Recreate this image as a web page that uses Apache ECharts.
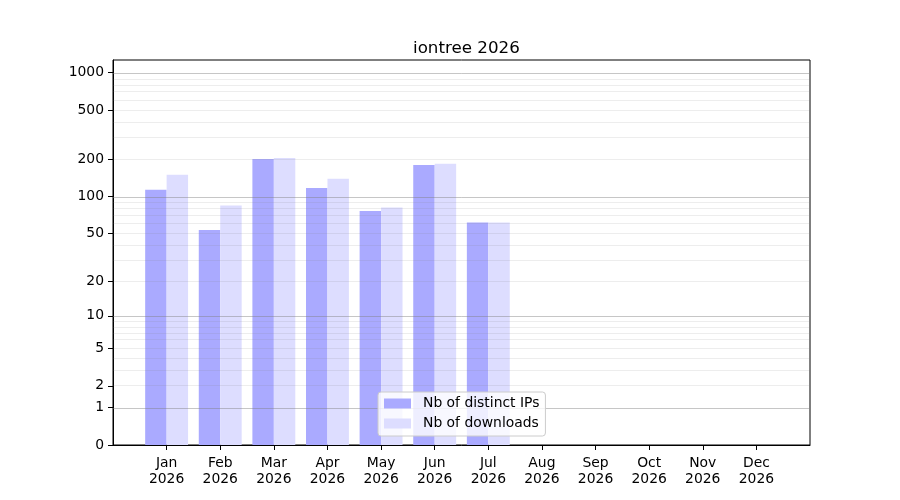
<!DOCTYPE html>
<html>
<head>
<meta charset="utf-8">
<script src="https://cdn.jsdelivr.net/npm/echarts@6/dist/echarts.min.js"></script>
<style>html,body{margin:0;padding:0;background:#fff}#c{width:900px;height:500px}</style>
</head>
<body>
<div id="c"></div>
<script>
var titleText = 'iontree 2026';
var months = ['Jan', 'Feb', 'Mar', 'Apr', 'May', 'Jun', 'Jul', 'Aug', 'Sep', 'Oct', 'Nov', 'Dec'];
var yearLabel = '2026';
var ipValues = [113, 53, 201, 117, 76, 180, 61, 0, 0, 0, 0, 0];
var downloadValues = [150, 84, 205, 139, 81, 184, 61, 0, 0, 0, 0, 0];
var yTickValues = [0, 1, 2, 5, 10, 20, 50, 100, 200, 500, 1000];
var majorGrid = [1, 10, 100, 1000];
var minorGrid = [2, 3, 4, 5, 6, 7, 8, 9, 20, 30, 40, 50, 60, 70, 80, 90, 200, 300, 400, 500, 600, 700, 800, 900];

function tr(v) { return Math.log10(1 + v); }

var cats = [''].concat(months.map(function (m) { return m + '\n' + yearLabel; })).concat(['']);
function pad(arr) { return [null].concat(arr.map(tr)).concat([null]); }

var FONT = 'DejaVu Sans';
var lines = [];
majorGrid.forEach(function (v) {
  lines.push({ yAxis: tr(v), lineStyle: { color: 'rgba(128,128,128,0.45)', width: 1, type: 'solid' } });
});
minorGrid.forEach(function (v) {
  lines.push({ yAxis: tr(v), lineStyle: { color: 'rgba(128,128,128,0.14)', width: 1, type: 'solid' } });
});

var chart = echarts.init(document.getElementById('c'), null, { renderer: 'canvas' });
chart.setOption({
  animation: false,
  backgroundColor: '#ffffff',
  textStyle: { fontFamily: FONT },
  title: {
    text: titleText, left: 408, top: 35,
    textStyle: { fontFamily: FONT, fontSize: 16.7, fontWeight: 'normal', color: '#000' }
  },
  grid: { left: 113, right: 90, top: 60, bottom: 55, show: true, borderColor: '#000', borderWidth: 1, backgroundColor: 'transparent' },
  legend: {
    orient: 'vertical', left: 378, top: 392,
    data: ['Nb of distinct IPs', 'Nb of downloads'],
    icon: 'rect', itemWidth: 27, itemHeight: 10, itemGap: 5,
    padding: [4, 6, 5, 6],
    backgroundColor: 'rgba(255,255,255,0.8)', borderColor: '#cccccc', borderWidth: 1, borderRadius: 3,
    textStyle: { fontFamily: FONT, fontSize: 13.9, color: '#000', lineHeight: 15, padding: [0, 0, 0, 7] },
    z: 20
  },
  xAxis: {
    type: 'category', data: cats, boundaryGap: false,
    axisLine: { show: true, lineStyle: { color: '#000', width: 1 } },
    axisTick: { show: true, length: 5, lineStyle: { color: '#000' },
      interval: function (i) { return i > 0 && i < cats.length - 1; } },
    axisLabel: { interval: 0, color: '#000', fontFamily: FONT, fontSize: 13.9, lineHeight: 16, margin: 10 },
    splitLine: { show: false }
  },
  yAxis: {
    type: 'value', min: 0, max: 3.103,
    axisLine: { show: true, lineStyle: { color: '#000', width: 1 } },
    axisTick: { show: true, length: 5, lineStyle: { color: '#000' }, customValues: yTickValues.map(tr) },
    axisLabel: {
      color: '#000', fontFamily: FONT, fontSize: 13.9, margin: 9,
      customValues: yTickValues.map(tr),
      formatter: function (val) {
        var best = yTickValues[0], bd = 1e9;
        yTickValues.forEach(function (t) { var d = Math.abs(tr(t) - val); if (d < bd) { bd = d; best = t; } });
        return String(best);
      }
    },
    splitLine: { show: false }
  },
  series: [
    { name: 'Nb of distinct IPs', type: 'bar', data: pad(ipValues), barWidth: 21.45, barGap: '0%',
      itemStyle: { color: '#aaaaff' }, z: 2 },
    { name: 'Nb of downloads', type: 'bar', data: pad(downloadValues), barWidth: 21.45, barGap: '0%',
      itemStyle: { color: '#ddddff' }, z: 2 },
    { name: 'grid', type: 'line', data: [], z: 5, silent: true,
      markLine: { silent: true, symbol: ['none', 'none'], label: { show: false }, animation: false, data: lines } }
  ]
});
</script>
</body>
</html>
